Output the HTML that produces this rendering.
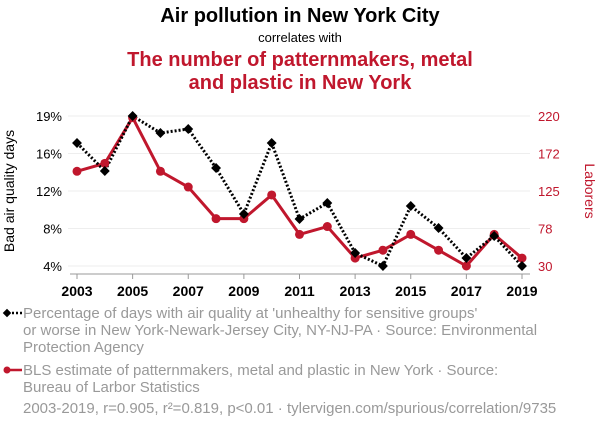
<!DOCTYPE html>
<html><head><meta charset="utf-8"><style>
body{margin:0;width:600px;height:430px;background:#fff;font-family:"Liberation Sans",sans-serif;overflow:hidden}
</style></head><body>
<svg width="600" height="430" id="s" font-family="Liberation Sans, sans-serif">
<text x="300" y="22" text-anchor="middle" font-size="20" font-weight="bold" fill="#000">Air pollution in New York City</text>
<text x="300" y="42" text-anchor="middle" font-size="13" fill="#000">correlates with</text>
<text x="300" y="66" text-anchor="middle" font-size="20" font-weight="bold" fill="#c0172d">The number of patternmakers, metal</text>
<text x="300" y="89" text-anchor="middle" font-size="20" font-weight="bold" fill="#c0172d">and plastic in New York</text>
<text transform="translate(14,191) rotate(-90)" text-anchor="middle" font-size="14" fill="#000">Bad air quality days</text>
<text transform="translate(585,191) rotate(90)" text-anchor="middle" font-size="14" fill="#c0172d">Laborers</text>
<g id="grid"></g><g id="axes"></g><g id="marks"></g>
<g font-size="15" fill="#999">
<line x1="4" y1="313" x2="22" y2="313" stroke="#000" stroke-width="2.5" stroke-dasharray="2,2"/>
<rect x="-3" y="-3" width="6" height="6" fill="#000" transform="translate(7,313) rotate(45)"/>
<text x="23" y="318"><tspan>Percentage of days with air quality at 'unhealthy for sensitive groups'</tspan><tspan x="23" dy="17">or worse in New York-Newark-Jersey City, NY-NJ-PA · Source: Environmental</tspan><tspan x="23" dy="17">Protection Agency</tspan></text>
<line x1="4" y1="370" x2="22" y2="370" stroke="#c0172d" stroke-width="2.5"/>
<circle cx="7" cy="370" r="3.5" fill="#c0172d"/>
<text x="23" y="375"><tspan>BLS estimate of patternmakers, metal and plastic in New York · Source:</tspan><tspan x="23" dy="17">Bureau of Larbor Statistics</tspan></text>
<text x="23" y="413">2003-2019, r=0.905, r²=0.819, p&lt;0.01 · tylervigen.com/spurious/correlation/9735</text>
</g>
</svg>
<script>
const years=[2003,2004,2005,2006,2007,2008,2009,2010,2011,2012,2013,2014,2015,2016,2017,2018,2019];
const airPct=[16.3,13.5,19,17.3,17.7,13.8,9.2,16.3,8.7,10.3,5.3,4,10,7.8,4.8,7,4];
const laborers=[150,160,218,150,130,90,90,120,70,80,40,50,70,50,30,70,40];
const leftTicks=[4,7.75,11.5,15.25,19];
const leftLabels=["4%","8%","12%","16%","19%"];
const rightTicks=[30,77.5,125,172.5,220];
const rightLabels=["30","78","125","172","220"];
const xTicks=[2003,2005,2007,2009,2011,2013,2015,2017,2019];
const NS="http://www.w3.org/2000/svg";
const X=y=>77+(y-2003)*(522-77)/16;
const YL=v=>266-(v-4)/15*150;
const YR=v=>266-(v-30)/190*150;
function mk(p,t,a){const e=document.createElementNS(NS,t);for(const k in a)e.setAttribute(k,a[k]);document.getElementById(p).appendChild(e);return e;}
leftTicks.forEach((v,i)=>{
 const g=mk('grid','line',{x1:68,x2:530,y1:YL(v),y2:YL(v),stroke:'#eee','stroke-width':1});
 
 
 const t=mk('axes','text',{x:62,y:YL(v)+5,'text-anchor':'end','font-size':13,fill:'#000'});t.textContent=leftLabels[i];
 
 
});
rightTicks.forEach((v,i)=>{
 const t=mk('axes','text',{x:538,y:YR(v)+5,'font-size':13,fill:'#c0172d'});t.textContent=rightLabels[i];
 
 
});
const ax=mk('axes','line',{x1:70,x2:530,y1:274,y2:274,stroke:'#999','stroke-width':1});


xTicks.forEach(y=>{
 const l=mk('axes','line',{x1:X(y),x2:X(y),y1:274,y2:279,stroke:'#999'});
 
 
 const t=mk('axes','text',{x:X(y),y:296,'text-anchor':'middle','font-size':14,'font-weight':'bold',fill:'#000'});t.textContent=y;
 
 
});
const lr=mk('marks','polyline',{points:years.map((y,i)=>X(y)+','+YR(laborers[i])).join(' '),fill:'none',stroke:'#c0172d','stroke-width':3});


const la=mk('marks','polyline',{points:years.map((y,i)=>X(y)+','+YL(airPct[i])).join(' '),fill:'none',stroke:'#000','stroke-width':3,'stroke-dasharray':'2,2'});


years.forEach((y,i)=>{
 const c=mk('marks','circle',{cx:X(y),cy:YR(laborers[i]),r:4.5,fill:'#c0172d'});
 
 
});
years.forEach((y,i)=>{
 const r=mk('marks','rect',{x:-3.5,y:-3.5,width:7,height:7,fill:'#000',transform:`translate(${X(y)},${YL(airPct[i])}) rotate(45)`});
 
 
});
</script>
</body></html>
